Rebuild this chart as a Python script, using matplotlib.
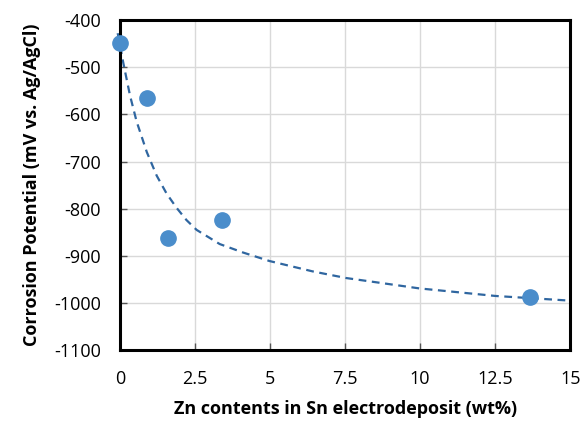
import numpy as np
import matplotlib
matplotlib.use("Agg")
import matplotlib.pyplot as plt

plt.rcParams["font.family"] = ["Open Sans", "DejaVu Sans"]
plt.rcParams["axes.unicode_minus"] = False

# measured points
zn_wt = [0.0, 0.89, 1.6, 3.4, 13.65]
e_corr = [-449, -566, -863, -825, -988]

# dashed trend curve
trend_x = [-0.08, 0.11, 0.33, 0.55, 0.89, 1.22, 1.55, 1.88, 2.21, 2.55, 3.32, 4.1,
           4.98, 6.42, 7.53, 9.97, 12.5, 15.0]
trend_y = [-428, -492, -560, -615, -680, -730, -768, -798, -824, -845, -875, -893,
           -911, -933, -947, -969, -985, -995]

x_ticks = [0, 2.5, 5, 7.5, 10, 12.5, 15]
x_ticklabels = ["0", "2.5", "5", "7.5", "10", "12.5", "15"]
y_ticks = [-1100, -1000, -900, -800, -700, -600, -500, -400]

fig = plt.figure(figsize=(5.83, 4.26), dpi=100)
ax = fig.add_axes([0.206, 0.178, 0.772, 0.775])

ax.plot(trend_x, trend_y, linestyle=(0, (3.5, 2.5)), color="#2f66a0", lw=1.6, zorder=2, clip_on=False)
ax.plot(zn_wt, e_corr, "o", ms=11, color="#4a8dcb", zorder=3, clip_on=False)

ax.set_xlim(0, 15)
ax.set_ylim(-1100, -400)
ax.set_xticks(x_ticks)
ax.set_xticklabels(x_ticklabels)
ax.set_yticks(y_ticks)
ax.grid(True, color="#d9d9d9", lw=1.0)
ax.set_axisbelow(True)
for s in ax.spines.values():
    s.set_linewidth(2.2)
    s.set_color("black")
ax.tick_params(direction="in", length=5, width=1, labelsize=13, color="#555555")
ax.tick_params(axis="x", pad=14)
ax.tick_params(axis="y", pad=14)

ax.set_xlabel("Zn contents in Sn electrodeposit (wt%)", fontsize=13, fontweight="bold", labelpad=9)
ax.set_ylabel("Corrosion Potential (mV vs. Ag/AgCl)", fontsize=13, fontweight="bold", labelpad=9)

fig.savefig("out.png", dpi=100)
